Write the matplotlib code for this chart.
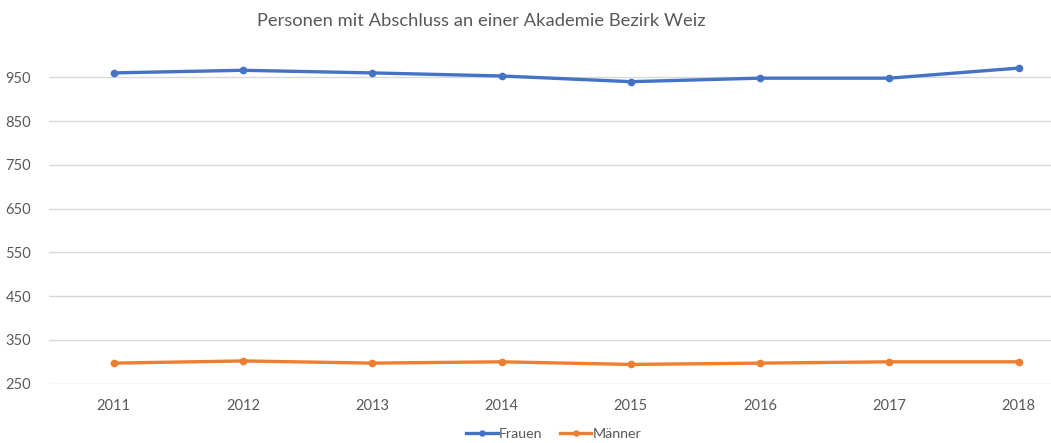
import matplotlib.pyplot as plt

years = ["2011", "2012", "2013", "2014", "2015", "2016", "2017", "2018"]
frauen = [960, 966, 960, 953, 940, 948, 948, 971]
maenner = [297, 302, 297, 300, 294, 297, 300, 300]
yticks = [250, 350, 450, 550, 650, 750, 850, 950]

plt.rcParams["font.family"] = ["Lato", "DejaVu Sans"]
txt = "#595959"

fig = plt.figure(figsize=(10.51, 4.43), dpi=100, facecolor="white")
ax = fig.add_axes([49 / 1051, 59.3 / 443, 1002 / 1051, 328.3 / 443])

x = list(range(len(years)))
ax.plot(x, frauen, color="#4472C4", lw=2.4, marker="o", ms=4.5, label="Frauen", zorder=3)
ax.plot(x, maenner, color="#ED7D31", lw=2.4, marker="o", ms=4.5, label="Männer", zorder=3)

ax.set_xlim(-0.5, 7.25)
ax.set_ylim(250, 1000)
ax.set_yticks(yticks)
ax.set_xticks(x, years)
ax.grid(axis="y", color="#D9D9D9", lw=1)
ax.set_axisbelow(True)
for s in ax.spines.values():
    s.set_visible(False)
ax.tick_params(length=0, colors=txt, labelsize=10.5)
ax.tick_params(axis="y", pad=13)
ax.tick_params(axis="x", pad=11)

fig.text(0.458, 0.952, "Personen mit Abschluss an einer Akademie Bezirk Weiz",
         ha="center", va="center", fontsize=13.2, color=txt)

ax.legend(loc="center", bbox_to_anchor=(0.527, 0.02), bbox_transform=fig.transFigure,
          ncol=2, frameon=False, fontsize=10.3, labelcolor=txt, handlelength=2.2,
          handletextpad=0.1, columnspacing=1.2, markerscale=0.8,
          borderaxespad=0, borderpad=0)

fig.savefig("out.png", dpi=100, facecolor="white")
